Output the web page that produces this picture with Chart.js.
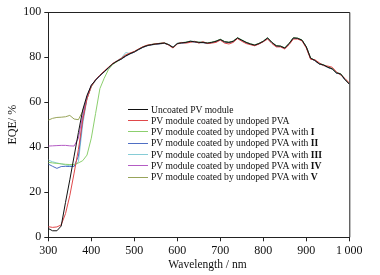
<!DOCTYPE html>
<html><head><meta charset="utf-8">
<script src="https://cdn.jsdelivr.net/npm/chart.js@4/dist/chart.umd.min.js"></script>
<style>
html,body{margin:0;padding:0;background:#fff;}
#wrap{position:relative;width:380px;height:275px;}
#legend{position:absolute;left:128px;top:103.5px;font-family:"Liberation Serif",serif;font-size:9.6px;color:#111;}
.row{display:block;height:11.3px;line-height:11.3px;white-space:pre;}
.sw{display:inline-block;width:20px;height:0;border-top:1.2px solid #000;margin-right:3px;vertical-align:middle;position:relative;top:-1px;}
#xtitle{position:absolute;left:207.5px;top:257.5px;transform:translateX(-50%);font-family:"Liberation Serif",serif;font-size:11.5px;line-height:12px;color:#111;white-space:nowrap;}
</style></head>
<body>
<div id="wrap">
<canvas id="c" width="380" height="275"></canvas>
<div id="legend"></div>
<div id="xtitle">Wavelength / nm</div>
</div>
<script>
// Wavelength (nm)
const wavelengths = [300,310,320,330,340,350,360,370,380,390,400,410,420,430,440,450,460,470,480,490,500,510,520,530,540,550,560,570,580,590,600,610,620,630,640,650,660,670,680,690,700,710,720,730,740,750,760,770,780,790,800,810,820,830,840,850,860,870,880,890,900,910,920,930,940,950,960,970,980,990,1000];

// Series labels (base text + bold numeral)
const labelTexts = ["Uncoated PV module","PV module coated by undoped PVA","PV module coated by undoped PVA with ","PV module coated by undoped PVA with ","PV module coated by undoped PVA with ","PV module coated by undoped PVA with ","PV module coated by undoped PVA with "];
const labelNumerals = ["","","I","II","III","IV","V"];

// EQE (%) values
const uncoated = [3.9,2.9,2.9,5.0,15.5,25.5,36.0,46.5,56.5,63.0,67.5,69.8,71.8,73.5,75.3,77.0,78.2,79.2,80.5,81.5,82.3,83.4,84.4,85.1,85.5,85.8,86.0,86.2,85.5,84.3,86.0,86.3,86.5,87.0,86.8,86.5,86.5,86.2,86.5,87.0,87.8,86.8,86.5,87.0,88.5,87.5,86.5,85.8,85.3,86.0,87.0,88.5,86.5,85.0,84.8,84.0,86.0,88.5,88.3,87.5,84.5,79.5,78.5,77.0,76.5,75.5,74.8,73.0,72.5,70.0,68.0];
const undopedPVA = [4.7,4.4,4.6,5.5,10.5,18.5,28.5,39.0,52.0,61.5,67.0,70.0,72.0,73.8,75.5,77.2,78.3,79.5,81.0,81.8,82.5,83.6,84.6,85.3,85.6,85.9,86.1,86.3,85.3,84.0,85.8,86.5,86.2,86.5,87.0,86.2,86.8,86.0,86.2,86.5,87.5,86.2,85.8,86.5,88.2,87.0,86.0,85.5,85.0,85.8,86.8,88.0,86.0,84.5,84.5,83.6,85.5,88.0,88.0,87.2,84.0,79.0,78.8,77.5,76.2,76.0,75.5,73.5,72.0,70.5,68.5];
const withI = [33.3,33.0,32.8,32.6,32.4,32.3,32.3,33.0,34.0,36.5,44.0,55.0,66.0,70.6,74.5,76.8,78.0,79.3,80.8,81.6,82.4,83.5,84.5,85.2,85.6,85.9,86.1,86.3,85.5,84.2,86.0,86.4,86.6,87.0,86.9,86.6,86.6,86.3,86.6,87.1,87.9,86.9,86.6,87.1,88.6,87.6,86.6,85.9,85.4,86.1,87.1,88.6,86.6,85.1,84.9,84.1,86.1,88.6,88.4,87.6,84.6,79.6,78.6,77.1,76.6,75.6,74.9,73.1,72.6,70.1,68.1];
const withII = [32.5,31.5,30.6,31.4,31.5,31.4,31.5,36.0,52.0,62.0,67.3,69.7,71.7,73.4,75.2,76.9,78.1,79.1,80.4,81.4,82.2,83.3,84.3,85.0,85.4,85.7,85.9,86.1,85.4,84.2,85.9,86.2,86.4,86.9,86.7,86.4,86.4,86.1,86.4,86.9,87.7,86.7,86.4,86.9,88.4,87.4,86.4,85.7,85.2,85.9,86.9,88.4,86.4,84.9,84.7,83.9,85.9,88.4,88.2,87.4,84.4,79.4,78.4,76.9,76.4,75.4,74.7,72.9,72.4,69.9,67.9];
const withIII = [34.3,33.5,33.0,32.6,32.1,31.8,31.4,33.5,50.0,61.5,67.2,69.8,71.9,73.6,75.4,77.1,78.4,79.6,82.0,81.6,82.4,83.5,84.5,85.2,85.6,85.9,86.1,86.3,85.6,84.4,86.1,86.4,86.6,87.1,86.9,86.6,86.6,86.3,86.6,87.1,87.9,86.9,86.6,87.1,88.6,87.6,86.6,85.9,85.4,86.1,87.1,88.6,86.6,85.1,84.9,84.1,86.1,88.6,88.4,87.6,84.6,79.6,78.6,77.1,76.6,75.6,74.9,73.1,72.6,70.1,68.1];
const withIV = [40.5,40.6,40.7,40.8,40.8,40.6,40.5,44.0,54.0,62.5,67.4,69.8,71.8,73.5,75.3,77.0,78.2,79.2,80.5,81.5,82.3,83.4,84.4,85.1,85.5,85.8,86.0,86.2,85.5,84.3,86.0,86.3,86.5,87.0,86.8,86.5,86.5,86.2,86.5,87.0,87.8,86.8,86.5,87.0,88.5,87.5,86.5,85.8,85.3,86.0,87.0,88.5,86.5,85.0,84.8,84.0,86.0,88.5,88.3,87.5,84.5,79.5,78.5,77.0,76.5,75.5,74.8,73.0,72.5,70.0,68.0];
const withV = [52.0,52.8,53.2,53.3,53.5,54.1,52.5,52.2,56.0,61.5,66.8,69.6,71.7,73.4,75.2,76.9,78.1,79.1,80.4,81.4,82.2,83.3,84.3,85.0,85.4,85.7,85.9,86.1,85.4,84.2,85.9,86.2,86.4,86.9,86.7,86.4,86.4,86.1,86.4,86.9,87.7,86.7,86.4,86.9,88.4,87.4,86.4,85.7,85.2,85.9,86.9,88.4,86.4,84.9,84.7,83.9,85.9,88.4,88.2,87.4,84.4,79.4,78.4,76.9,76.4,75.4,74.7,72.9,72.4,69.9,67.9];

// Axis tick values
const yTicks = [0,20,40,60,80,100];
const xTicks = [300,400,500,600,700,800,900,1000];

const seriesValues = [uncoated, undopedPVA, withI, withII, withIII, withIV, withV];
const colors = ["#111111","#e0484a","#8ccf6e","#4f6fc4","#86ccd6","#b45cc4","#98a45a"];

const datasets = seriesValues.map((vals, i) => ({
  label: labelTexts[i] + labelNumerals[i],
  data: vals.map((v, j) => ({x: wavelengths[j], y: v})),
  borderColor: colors[i],
  backgroundColor: colors[i],
  borderWidth: 1,
  pointRadius: 0,
  tension: 0,
  fill: false
}));

const serif = "'Liberation Serif', 'Times New Roman', serif";

const framePlugin = {
  id: 'frame',
  afterDraw(chart) {
    const {ctx, chartArea: a} = chart;
    ctx.save();
    ctx.strokeStyle = '#222';
    ctx.lineWidth = 1;
    ctx.beginPath();
    ctx.moveTo(a.left, a.top + 0.5);
    ctx.lineTo(a.right + 0.5, a.top + 0.5);
    ctx.lineTo(a.right + 0.5, a.bottom);
    ctx.stroke();
    ctx.restore();
  }
};

new Chart(document.getElementById('c'), {
  type: 'line',
  data: {datasets},
  plugins: [framePlugin],
  options: {
    responsive: false,
    devicePixelRatio: 1,
    animation: false,
    layout: {padding: {left: 0, top: 12, right: 30.7, bottom: 0}},
    plugins: {legend: {display: false}, tooltip: {enabled: false}},
    scales: {
      x: {
        type: 'linear', min: 300, max: 1000,
        afterBuildTicks: s => { s.ticks = xTicks.map(v => ({value: v})); },
        afterFit: s => { s.height = 37.7; },
        border: {display: true, color: '#222', width: 1},
        grid: {display: true, drawOnChartArea: false, drawTicks: true, tickLength: 4, tickColor: '#222'},
        ticks: {color: '#111', padding: 2, maxRotation: 0, font: {family: serif, size: 12},
          callback: v => v >= 1000 ? String(v).replace(/(\d)(\d{3})$/, '$1\u2009$2') : String(v)}
      },
      y: {
        min: 0, max: 100,
        afterBuildTicks: s => { s.ticks = yTicks.map(v => ({value: v})); },
        afterFit: s => { s.width = 48.3; },
        border: {display: true, color: '#222', width: 1},
        grid: {display: true, drawOnChartArea: false, drawTicks: true, tickLength: 4, tickColor: '#222'},
        ticks: {color: '#111', padding: 3, font: {family: serif, size: 12}},
        title: {display: true, text: 'EQE/ %', color: '#111', padding: {top: 6, bottom: 0}, font: {family: serif, size: 12}}
      }
    }
  }
});

// HTML legend (with bold numerals)
const legend = document.getElementById('legend');
datasets.forEach((d, i) => {
  const row = document.createElement('div');
  row.className = 'row';
  const sw = document.createElement('span');
  sw.className = 'sw';
  sw.style.borderTopColor = colors[i];
  row.appendChild(sw);
  row.appendChild(document.createTextNode(labelTexts[i]));
  if (labelNumerals[i]) {
    const b = document.createElement('b');
    b.textContent = labelNumerals[i];
    row.appendChild(b);
  }
  legend.appendChild(row);
});
</script>
</body></html>
